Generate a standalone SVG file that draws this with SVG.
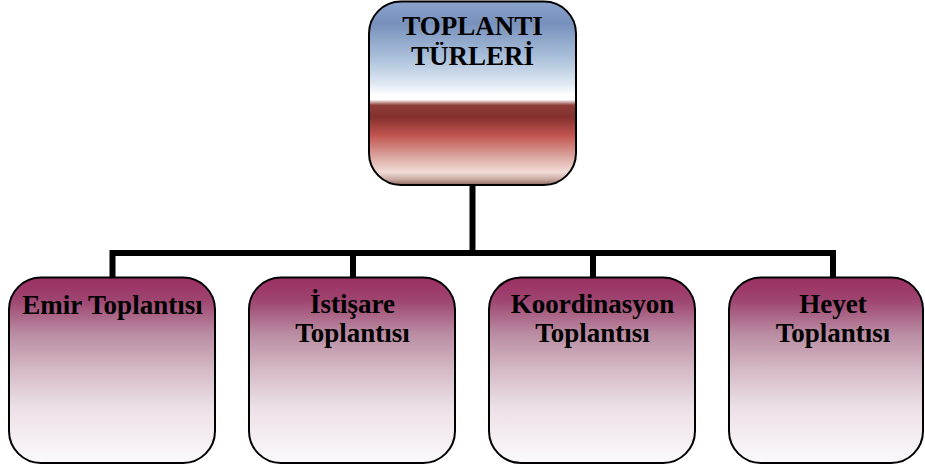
<svg xmlns="http://www.w3.org/2000/svg" width="925" height="468" viewBox="0 0 925 468">
<defs>
<linearGradient id="gTop" x1="0" y1="0" x2="0" y2="1">
<stop offset="0" stop-color="#8aa2cc"/>
<stop offset="0.12" stop-color="#7891bc"/>
<stop offset="0.3" stop-color="#a8bed9"/>
<stop offset="0.45" stop-color="#dfe9f3"/>
<stop offset="0.51" stop-color="#ffffff"/>
<stop offset="0.535" stop-color="#ffffff"/>
<stop offset="0.565" stop-color="#8e3c37"/>
<stop offset="0.63" stop-color="#83302c"/>
<stop offset="0.73" stop-color="#c25450"/>
<stop offset="0.85" stop-color="#dcaaa3"/>
<stop offset="0.93" stop-color="#f2dcd6"/>
<stop offset="0.97" stop-color="#c8a8a0"/>
<stop offset="1" stop-color="#8a6a62"/>
</linearGradient>
<linearGradient id="gSub" x1="0" y1="0" x2="0" y2="1">
<stop offset="0" stop-color="#9b2f62"/>
<stop offset="0.12" stop-color="#9e4470"/>
<stop offset="0.3" stop-color="#b98ba1"/>
<stop offset="0.5" stop-color="#d5bac7"/>
<stop offset="0.7" stop-color="#ece0e6"/>
<stop offset="1" stop-color="#fbf9fb"/>
</linearGradient>
</defs>
<style>
.box{stroke:#000;stroke-width:2}
.top{fill:url(#gTop)}
.sub{fill:url(#gSub)}
.lbl{font-family:"Liberation Serif","Times New Roman",serif;font-weight:bold;font-size:27px;fill:#000;text-anchor:middle}
.conn{fill:none;stroke:#000;stroke-width:6}
</style>
<g id="connectors">
<path class="conn" d="M472.5 185 V253"/>
<path class="conn" d="M112.5 280 V253 H833 V280"/>
<path class="conn" d="M353 253 V280"/>
<path class="conn" d="M593 253 V280"/>
</g>
<g id="node-root">
<rect class="box top" x="369" y="1.5" width="207" height="183.5" rx="32" ry="32"/>
<text class="lbl" x="472.5" y="35">TOPLANTI</text>
<text class="lbl" x="472.5" y="65">TÜRLERİ</text>
</g>
<g id="node-emir">
<rect class="box sub" x="9" y="277.5" width="206" height="185.5" rx="32" ry="32"/>
<text class="lbl" x="112.5" y="314">Emir Toplantısı</text>
</g>
<g id="node-istisare">
<rect class="box sub" x="249" y="277.5" width="206" height="185.5" rx="32" ry="32"/>
<text class="lbl" x="352.5" y="313">İstişare</text>
<text class="lbl" x="352.5" y="342">Toplantısı</text>
</g>
<g id="node-koordinasyon">
<rect class="box sub" x="489" y="277.5" width="206" height="185.5" rx="32" ry="32"/>
<text class="lbl" x="592.5" y="313">Koordinasyon</text>
<text class="lbl" x="592.5" y="342">Toplantısı</text>
</g>
<g id="node-heyet">
<rect class="box sub" x="729" y="277.5" width="194" height="185.5" rx="32" ry="32"/>
<text class="lbl" x="833" y="313">Heyet</text>
<text class="lbl" x="833" y="342">Toplantısı</text>
</g>
</svg>
